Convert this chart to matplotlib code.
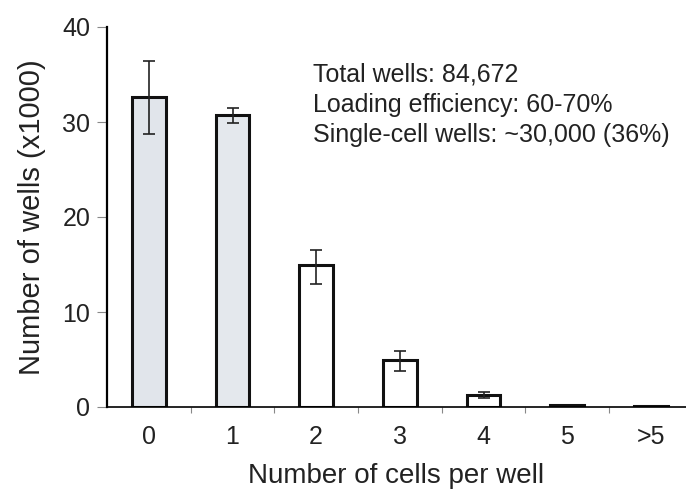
import matplotlib.pyplot as plt
import numpy as np

plt.rcParams['font.family'] = ['Liberation Sans', 'DejaVu Sans']

# data (thousands of wells)
categories = ['0', '1', '2', '3', '4', '5', '>5']
wells = [32.6, 30.7, 14.9, 5.0, 1.3, 0.2, 0.1]
err_low = [3.9, 0.8, 1.9, 1.2, 0.4, 0.0, 0.0]
err_high = [3.8, 0.8, 1.6, 0.9, 0.3, 0.0, 0.0]
fills = ['#e1e5eb', '#e4e8ed', 'white', 'white', 'white', 'white', 'white']
notes = ['Total wells: 84,672', 'Loading efficiency: 60-70%', 'Single-cell wells: ~30,000 (36%)']

fig = plt.figure(figsize=(6.86, 4.91), dpi=100)
ax = fig.add_axes([107/686, 1-407/491, 579/686, 380/491])

x = np.arange(len(categories))
ax.bar(x, wells, width=0.4, color=fills, edgecolor='#111111', linewidth=2.2, zorder=2)
ax.errorbar(x[:5], wells[:5], yerr=[err_low[:5], err_high[:5]], fmt='none',
            ecolor='#222222', elinewidth=1.2, capsize=4, capthick=1.2, zorder=3)

ax.set_xlim(-0.5, 6.42)
ax.set_ylim(0, 40)
ax.set_yticks([0, 10, 20, 30, 40])
ax.set_xticks(x)
ax.set_xticklabels(categories)
ax.set_xticks(np.arange(0.5, 6, 1), minor=True)
ax.tick_params(axis='x', which='major', length=0, pad=13, labelsize=18, labelcolor='#222222')
ax.tick_params(axis='x', which='minor', length=4, width=0.8, color='#888888')
ax.tick_params(axis='y', length=7, width=0.8, color='#888888', labelsize=18, pad=5, labelcolor='#222222')

for s in ['top', 'right']:
    ax.spines[s].set_visible(False)
ax.spines['left'].set_linewidth(1.6)
ax.spines['bottom'].set_linewidth(1.2)

ax.set_xlabel('Number of cells per well', fontsize=20, labelpad=10, color='#222222')
ax.set_ylabel('Number of wells (x1000)', fontsize=21, labelpad=12, color='#222222')

for i, t in enumerate(notes):
    ax.text(0.356, 0.874 - 0.079 * i, t, transform=ax.transAxes, fontsize=18,
            va='center', color='#222222')

plt.savefig('out.png', dpi=100)
